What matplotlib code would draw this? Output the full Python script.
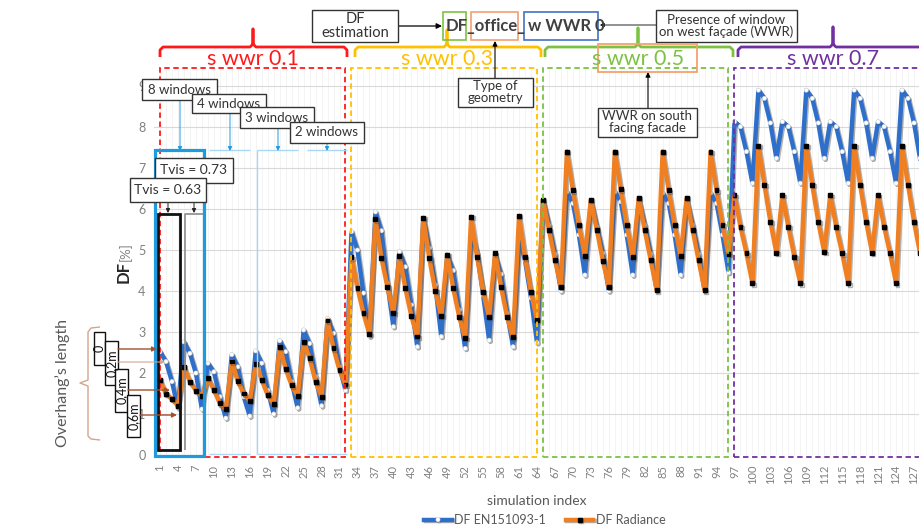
import matplotlib
matplotlib.use("Agg")
import matplotlib.pyplot as plt
import matplotlib.patheffects as pe
from matplotlib.patches import Rectangle, FancyArrowPatch
from matplotlib.lines import Line2D
import numpy as np

plt.rcParams['font.family'] = ['Lato', 'DejaVu Sans']

# ---------------- data ----------------
group_labels = ["s wwr 0.1", "s wwr 0.3", "s wwr 0.5", "s wwr 0.7"]
group_colors = ["#FF1A1A", "#FFC000", "#7CC242", "#7030A0"]

df_en_wwr01 = [2.52, 2.28, 1.79, 1.15, 2.76, 2.48, 2.00, 1.12, 2.24, 2.03, 1.42, 0.90,
               2.45, 2.15, 1.42, 0.95, 2.54, 2.24, 1.58, 1.00, 2.79, 2.52, 1.79, 1.15,
               3.05, 2.72, 1.91, 1.20, 3.33, 2.97, 2.15, 1.58]
df_rad_wwr01 = [1.83, 1.49, 1.37, 1.20, 2.15, 1.79, 1.57, 1.44, 1.88, 1.59, 1.26, 1.12,
                2.28, 1.80, 1.50, 1.32, 2.22, 1.83, 1.46, 1.24, 2.64, 2.10, 1.70, 1.44,
                2.76, 2.36, 1.79, 1.42, 3.28, 2.60, 2.07, 1.72]
df_en_wwr03 = [5.45, 5.00, 3.95, 2.90, 5.93, 5.47, 4.19, 3.13, 4.96, 4.59, 3.66, 2.64,
               5.78, 5.05, 4.15, 2.89, 4.88, 4.50, 3.54, 2.60, 5.41, 4.92, 3.90, 2.80,
               4.88, 4.41, 3.46, 2.64, 5.29, 4.75, 3.83, 2.74]
df_rad_wwr03 = [4.82, 4.07, 3.46, 2.95, 5.75, 4.81, 4.10, 3.47, 4.85, 4.07, 3.39, 2.89,
                5.78, 4.80, 4.00, 3.39, 4.88, 4.07, 3.37, 2.85, 5.81, 4.82, 3.98, 3.37,
                4.92, 4.10, 3.37, 2.87, 5.83, 4.82, 3.98, 3.29]
df_en_wwr05 = [6.20, 5.61, 4.90, 4.00, 6.42, 6.14, 5.37, 4.39, 6.18, 5.57, 4.92, 4.00,
               6.42, 6.18, 5.37, 4.39, 6.20, 5.61, 4.90, 4.02, 6.39, 6.14, 5.37, 4.39,
               6.20, 5.61, 4.90, 4.02, 6.39, 6.14, 5.37, 4.45]
df_rad_wwr05 = [6.22, 5.49, 4.76, 4.10, 7.40, 6.46, 5.61, 4.85, 6.22, 5.49, 4.74, 4.10,
                7.40, 6.48, 5.61, 4.82, 6.27, 5.49, 4.76, 4.02, 7.40, 6.46, 5.61, 4.85,
                6.27, 5.49, 4.76, 4.02, 7.40, 6.46, 5.61, 4.90]
df_en_wwr07 = [8.13, 8.01, 7.40, 6.63, 8.90, 8.70, 8.10, 7.24, 8.13, 8.01, 7.40, 6.63,
               8.90, 8.70, 8.10, 7.24, 8.13, 8.01, 7.40, 6.63, 8.90, 8.70, 8.10, 7.24,
               8.13, 8.01, 7.40, 6.63, 8.90, 8.70, 8.10, 7.24]
df_rad_wwr07 = [6.34, 5.57, 4.92, 4.19, 7.54, 6.59, 5.69, 4.93, 6.34, 5.57, 4.84, 4.19,
                7.54, 6.59, 5.69, 4.95, 6.34, 5.57, 4.92, 4.19, 7.54, 6.59, 5.69, 4.93,
                6.34, 5.57, 4.92, 4.19, 7.54, 6.59, 5.69, 4.93]

df_en = df_en_wwr01 + df_en_wwr03 + df_en_wwr05 + df_en_wwr07
df_rad = df_rad_wwr01 + df_rad_wwr03 + df_rad_wwr05 + df_rad_wwr07
sim_index = list(range(1, len(df_en) + 1))
group_size = 32
xtick_labels = [str(i) for i in range(1, 129, 3)]
ytick_values = list(range(0, 10))

# ---------------- figure ----------------
W, H = 920, 530
fig = plt.figure(figsize=(W / 100, H / 100), dpi=100)
fig.patch.set_facecolor("white")


def P(x, y):
    return (x / W, 1 - y / H)


ax = fig.add_axes([154 / W, 1 - 455 / H, (W - 154) / W, (455 - 68) / H])
ax.set_xlim(0, 127.7)
ax.set_ylim(0, 9.44)
for s in ax.spines.values():
    s.set_visible(False)
ax.set_xticks([int(t) for t in xtick_labels])
ax.set_xticklabels(xtick_labels, rotation=90, fontsize=8, color="#808080")
ax.set_yticks(ytick_values)
ax.set_yticklabels([str(v) for v in ytick_values], fontsize=9, color="#808080")
ax.tick_params(axis="x", length=0, pad=7)
ax.tick_params(axis="y", length=0, pad=6)
ax.set_xticks(sim_index, minor=True)
ax.tick_params(which="minor", length=0)
ax.grid(True, axis="y", color="#d9d9d9", lw=0.8)
ax.grid(True, axis="x", which="both", color="#f2f2f2", lw=0.6)
ax.set_axisbelow(True)

shadow = [pe.SimpleLineShadow(offset=(1.0, -1.0), shadow_color="#555555", alpha=0.45), pe.Normal()]
l1, = ax.plot(sim_index, df_en, color="#2F6FCC", lw=3.2, marker="o", ms=3.0,
              mfc="white", mec="#e0e0e0", mew=0.4, path_effects=shadow,
              label="DF EN151093-1", zorder=3)
l2, = ax.plot(sim_index, df_rad, color="#F07F22", lw=3.2, marker="s", ms=2.8,
              mfc="black", mec="black", path_effects=shadow,
              label="DF Radiance", zorder=4)

# dashed group boxes in data coords
for g, col in enumerate(group_colors):
    x0 = sim_index[g * group_size]
    x1 = sim_index[min((g + 1) * group_size, len(sim_index)) - 1]
    ax.add_patch(Rectangle((x0, -0.04), x1 - x0, 9.48, fill=False, ec=col,
                           lw=1.3, ls=(0, (3, 2)), clip_on=False, zorder=5))

ax.set_xlabel("simulation index", fontsize=10, color="#595959", labelpad=8)
fig.text(*P(124, 272), "DF", rotation=90, fontsize=12, fontweight="bold",
         color="#262626", ha="center", va="center")
fig.text(*P(125, 252), "[%]", rotation=90, fontsize=9.5, color="#808080",
         ha="center", va="center")

fig.legend(handles=[l1, l2], loc="center", bbox_to_anchor=P(545, 520), ncol=2,
           frameon=False, fontsize=9, handlelength=2.2, columnspacing=1.6,
           handletextpad=0.2, labelcolor="#595959")


# ---------------- annotation helpers (pixel coords) ----------------
def rect(x0, y0, x1, y1, ec="black", lw=1.0, fc="white", z=6):
    fig.add_artist(Rectangle(P(x0, y1), (x1 - x0) / W, (y1 - y0) / H,
                             transform=fig.transFigure, fc=fc, ec=ec, lw=lw,
                             fill=fc is not None, zorder=z))


def box(x0, y0, x1, y1, text, fs=10, color="#333333", ec="#333333", lw=1.0,
        rot=0, weight="normal", z=6):
    rect(x0, y0, x1, y1, ec=ec, lw=lw, z=z)
    fig.text(*P((x0 + x1) / 2, (y0 + y1) / 2), text, fontsize=fs, color=color,
             ha="center", va="center", rotation=rot, fontweight=weight,
             linespacing=1.0, zorder=z + 0.1)


def arrow(p0, p1, color="black", lw=0.9, ms=8, z=5.5):
    fig.add_artist(FancyArrowPatch(P(*p0), P(*p1), transform=fig.transFigure,
                                   arrowstyle="-|>", mutation_scale=ms,
                                   color=color, lw=lw, shrinkA=0, shrinkB=0,
                                   zorder=z))


def line(xs, ys, color, lw=1.0, z=5.5, ls="-"):
    fig.add_artist(Line2D([x / W for x in xs], [1 - y / H for y in ys],
                          transform=fig.transFigure, color=color, lw=lw,
                          ls=ls, zorder=z, solid_capstyle="butt"))


# brackets
brackets = [(160, 347, 253, 29), (355, 541, 447, 30), (545, 733, 638, 28), (738, 940, 833, 27)]
yb = 47
for (x0, x1, xc, ytop), col, lab in zip(brackets, group_colors, group_labels):
    xs = [x0, x0, x0 + 3, xc - 3, xc, xc, xc, xc + 3, x1 - 3, x1, x1]
    ys = [yb + 10, yb + 3, yb, yb, yb - 3, ytop, yb - 3, yb, yb, yb + 3, yb + 10]
    line(xs, ys, col, lw=2.0, z=4)
    fig.text(*P(xc, 65), lab, fontsize=15.5, color=col, ha="center", va="baseline",
             zorder=6)

# top naming annotation
box(312, 10, 398, 42, "DF\nestimation", fs=10.5, color="#333333")
arrow((398, 26), (442, 26))
rect(443, 12, 466, 40, ec="#7CC242", lw=1.2, fc=None)
rect(471, 12, 518, 40, ec="#F4A070", lw=1.2, fc=None)
rect(524, 12, 598, 40, ec="#4472C4", lw=1.2, fc=None)
fig.text(*P(446, 26), "DF_office_", fontsize=12, fontweight="bold", color="#404040",
         ha="left", va="center", zorder=7)
fig.text(*P(528, 26), "w WWR 0", fontsize=12, fontweight="bold", color="#404040",
         ha="left", va="center", zorder=7)
box(656, 10, 797, 42, "Presence of window\non west façade (WWR)", fs=9.5)
arrow((656, 25), (600, 25), lw=0.6, ms=6)
box(458, 78, 533, 107, "Type of\ngeometry", fs=9.5)
arrow((495, 78), (495, 41), lw=0.8, ms=7)
rect(598, 44, 697, 72, ec="#F4A070", lw=1.3, fc=None)
box(598, 108, 697, 137, "WWR on south\nfacing facade", fs=9.5)
arrow((648, 108), (648, 72), lw=0.8, ms=7)

# window-count boxes
wb = "#1E9BE0"
lb = "#a8d8f6"
for xs_ in [(209, 250), (257, 298), (307, 347)]:
    line(list(xs_), [150, 150], lb, lw=1.0, z=5)
    line(list(xs_), [454, 454], lb, lw=1.0, z=5)
line([257, 257], [150, 454], lb, lw=1.0, z=5)
rect(155, 150, 204, 456, ec=wb, lw=2.3, fc=None, z=5.6)
for xa, ytop_a in [(180, 100), (230, 113), (278, 128), (327, 143)]:
    arrow((xa, ytop_a), (xa, 151), color=wb, lw=0.7, ms=6, z=5.5)
box(142, 79, 217, 100, "8 windows", fs=9.5)
box(192, 94, 266, 113, "4 windows", fs=9.5)
box(240, 107, 314, 128, "3 windows", fs=9.5)
box(290, 122, 364, 143, "2 windows", fs=9.5)

# Tvis boxes
rect(158, 214, 180, 450, ec="#111111", lw=2.0, fc=None, z=5.7)
line([185, 185, 203], [450, 214, 214], "#8c8c8c", lw=1.2, z=5.7)
arrow((194, 183), (194, 213), color="#222222", lw=0.7, ms=6, z=5.8)
arrow((168, 202), (168, 213), color="#222222", lw=0.7, ms=6, z=5.8)
box(155, 158, 233, 183, "Tvis = 0.73", fs=10, z=6)
box(130, 178, 206, 202, "Tvis = 0.63", fs=10, z=6.5)

# overhang annotation
brown = "#a0522d"
fig.text(*P(63, 383), "Overhang\u2019s length", rotation=90, fontsize=11.5,
         color="#595959", ha="center", va="center")
line([100, 91, 88, 88, 80, 88, 88, 91, 100], [327, 328, 332, 380, 383, 386, 436, 439, 440],
     "#d4a48c", lw=1.0, z=5)
for (x0, y0, x1, y1, t) in [(94, 332, 105, 365, "0"), (105, 341, 118, 385, "0,2m"),
                            (115, 369, 128, 412, "0,4m"), (127, 395, 140, 437, "0,6m")]:
    box(x0, y0, x1, y1, t, fs=9, rot=90, color="#111111", ec="#111111")
arrow((118, 349), (157, 349), color=brown, lw=1.0, ms=7, z=6.6)
arrow((118, 362), (165, 362), color="#d4a48c", lw=0.8, ms=6, z=6.6)
arrow((128, 390), (170, 390), color=brown, lw=1.0, ms=7, z=6.6)
arrow((140, 415), (177, 415), color=brown, lw=1.0, ms=7, z=6.6)

fig.savefig("out.png", dpi=100, facecolor="white")
